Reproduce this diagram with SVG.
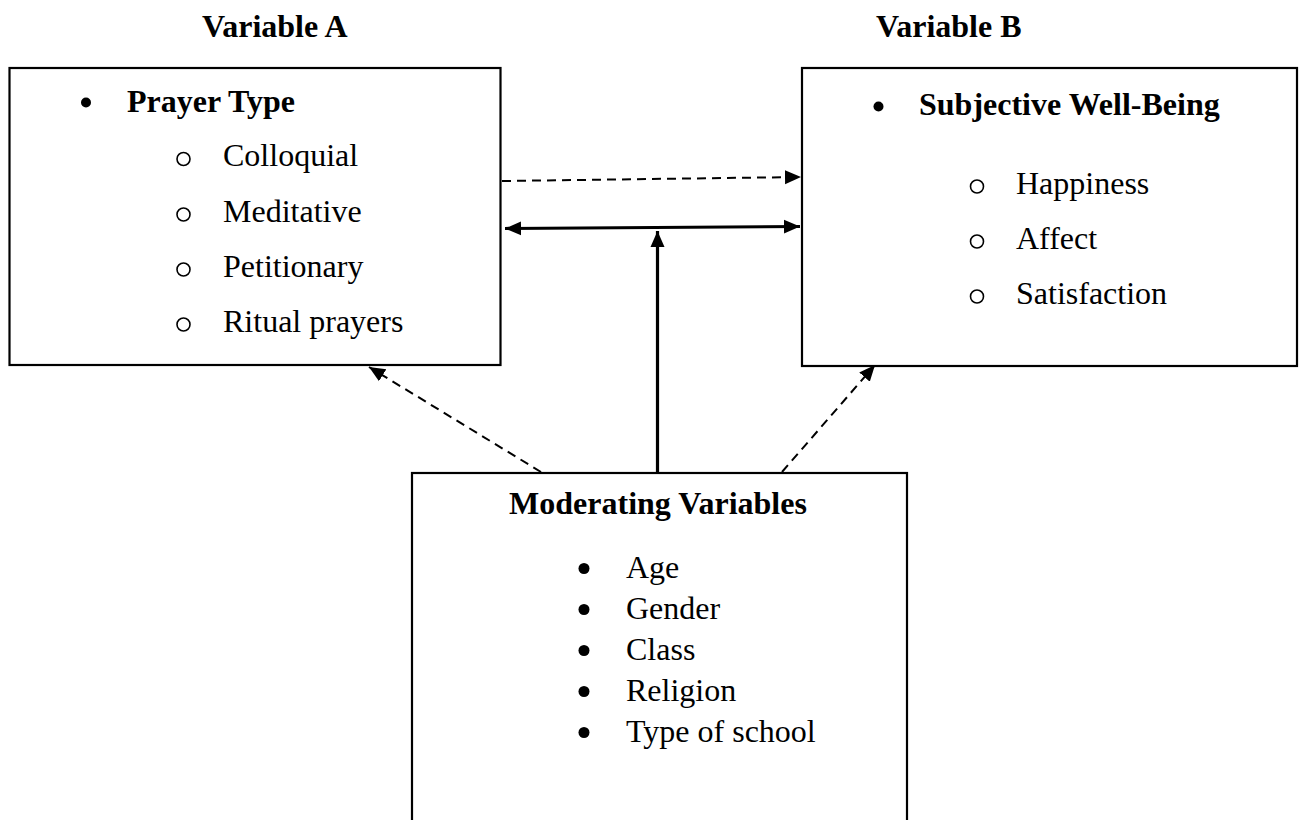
<svg xmlns="http://www.w3.org/2000/svg" width="1304" height="820" viewBox="0 0 1304 820">
<style>
.box{fill:#fff;stroke:#000;stroke-width:2.2}
.t{font-family:"Liberation Serif","Times New Roman",serif;font-size:32px;fill:#000}
.b{font-weight:bold}
.dash{fill:none;stroke:#000;stroke-width:2;stroke-dasharray:9 6}
.solid{fill:none;stroke:#000;stroke-width:3.2}
.ob{fill:none;stroke:#000;stroke-width:1.6}
</style>
<defs>
<marker id="ah" markerUnits="userSpaceOnUse" markerWidth="18" markerHeight="16" refX="16" refY="7" orient="auto-start-reverse" viewBox="0 0 18 14">
<path d="M0,0 L16,7 L0,14 Z" fill="#000"/>
</marker>
</defs>
<rect width="1304" height="820" fill="#fff"/>
<text class="t b" x="202" y="37">Variable A</text>
<text class="t b" x="876" y="37">Variable B</text>
<g id="connectors">
<line class="dash" x1="502" y1="181" x2="801" y2="177" marker-end="url(#ah)"/>
<line class="solid" x1="505" y1="228.5" x2="800" y2="226.5" marker-start="url(#ah)" marker-end="url(#ah)"/>
<line class="solid" x1="657.5" y1="472" x2="657.5" y2="231" marker-end="url(#ah)"/>
<line class="dash" x1="541" y1="472" x2="369" y2="367" marker-end="url(#ah)"/>
<line class="dash" x1="782" y1="472" x2="875" y2="365" marker-end="url(#ah)"/>
</g>
<g id="nodeA">
<rect class="box" x="9.5" y="68" width="491" height="297"/>
<circle cx="86" cy="102.5" r="5"/>
<text class="t b" x="127" y="112">Prayer Type</text>
<circle class="ob" cx="183.5" cy="159" r="6.5"/>
<text class="t" x="223" y="166">Colloquial</text>
<circle class="ob" cx="183.5" cy="214.5" r="6.5"/>
<text class="t" x="223" y="221.5">Meditative</text>
<circle class="ob" cx="183.5" cy="269.5" r="6.5"/>
<text class="t" x="223" y="276.5">Petitionary</text>
<circle class="ob" cx="183.5" cy="324.5" r="6.5"/>
<text class="t" x="223" y="331.5">Ritual prayers</text>
</g>
<g id="nodeB">
<rect class="box" x="802" y="68" width="495" height="298"/>
<circle cx="878.5" cy="106.5" r="5"/>
<text class="t b" x="919" y="115">Subjective Well-Being</text>
<circle class="ob" cx="977" cy="186.5" r="6.5"/>
<text class="t" x="1016" y="193.5">Happiness</text>
<circle class="ob" cx="977" cy="241.5" r="6.5"/>
<text class="t" x="1016" y="248.5">Affect</text>
<circle class="ob" cx="977" cy="296.5" r="6.5"/>
<text class="t" x="1016" y="303.5">Satisfaction</text>
</g>
<g id="nodeC">
<rect class="box" x="412" y="473" width="495" height="360"/>
<text class="t b" x="658" y="513.5" text-anchor="middle">Moderating Variables</text>
<circle cx="584" cy="568.5" r="5.5"/>
<text class="t" x="626" y="577.5">Age</text>
<circle cx="584" cy="609.5" r="5.5"/>
<text class="t" x="626" y="618.5">Gender</text>
<circle cx="584" cy="650.5" r="5.5"/>
<text class="t" x="626" y="659.5">Class</text>
<circle cx="584" cy="691.5" r="5.5"/>
<text class="t" x="626" y="700.5">Religion</text>
<circle cx="584" cy="732.5" r="5.5"/>
<text class="t" x="626" y="741.5">Type of school</text>
</g>
</svg>
